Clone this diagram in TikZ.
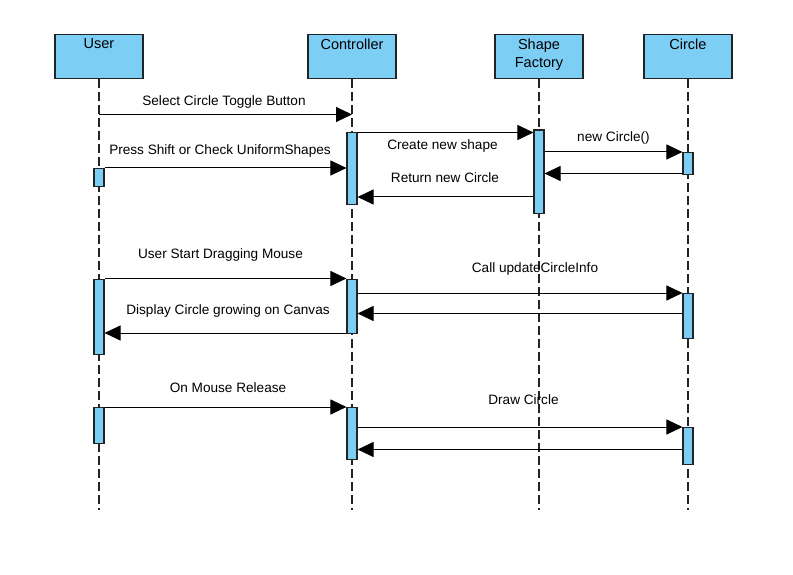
\documentclass[tikz,border=0pt]{standalone}
\usepackage{fontspec}
\setmainfont{Liberation Sans}
\usetikzlibrary{arrows.meta}
\definecolor{boxfill}{RGB}{125,206,245}
\definecolor{edge}{RGB}{35,35,35}
\begin{document}
\begin{tikzpicture}[x=1pt,y=-1pt,
  head/.style={draw=edge, fill=boxfill, line width=1.1pt, minimum width=88pt, minimum height=44pt, inner sep=0pt, anchor=north},
  headtxt/.style={anchor=north, inner sep=0pt, yshift=-4.5pt, align=center, font=\fontsize{14.5}{18}\selectfont},
  life/.style={draw=edge, line width=1.1pt, dash pattern=on 9pt off 4pt},
  act/.style={draw=edge, fill=boxfill, line width=1.1pt, minimum width=10pt, inner sep=0pt, anchor=north},
  msgline/.style={draw=black, line width=1pt, -{Triangle[length=16pt,width=15pt]}},
  msg/.style={inner sep=0pt, font=\fontsize{13.6}{16}\selectfont}
]
\fill[white] (0,0) rectangle (793,575);
\useasboundingbox (0,0) rectangle (793,575);

% headers
\node[head] (user) at (99,34) {};
\node[headtxt] (usertxt) at (user.north) {User};
\node[head] (ctrl) at (352,34) {};
\node[headtxt] (ctrltxt) at (ctrl.north) {Controller};
\node[head] (fact) at (539,34) {};
\node[headtxt] (facttxt) at (fact.north) {Shape\\Factory};
\node[head] (circ) at (688,34) {};
\node[headtxt] (circtxt) at (circ.north) {Circle};

% lifeline ends
\coordinate (userend) at (99,510);
\coordinate (ctrlend) at (352,510);
\coordinate (factend) at (539,510);
\coordinate (circend) at (688,510);
\draw[life] (user.south) -- (userend);
\draw[life] (ctrl.south) -- (ctrlend);
\draw[life] (fact.south) -- (factend);
\draw[life] (circ.south) -- (circend);

% activations
\node[act, minimum height=18pt] (ua1) at (99,168) {};
\node[act, minimum height=75pt] (ua2) at (99,278.5) {};
\node[act, minimum height=36pt] (ua3) at (99,407) {};
\node[act, minimum height=72pt] (ca1) at (352,132) {};
\node[act, minimum height=54.5pt] (ca2) at (352,278.5) {};
\node[act, minimum height=51.5pt] (ca3) at (352,407) {};
\node[act, minimum height=83pt] (fa1) at (539,129.5) {};
\node[act, minimum height=22pt] (ia1) at (688,152) {};
\node[act, minimum height=44.5pt] (ia2) at (688,293) {};
\node[act, minimum height=37pt] (ia3) at (688,427) {};

% messages
\coordinate (m1s) at (99,114.5);
\coordinate (m1e) at (352,114.5);
\draw[msgline] (m1s) -- (m1e);
\node[msg] (l1) at (224,102) {Select Circle Toggle Button};

\draw[msgline] (ca1.east |- 0,132.5) -- (fa1.west |- 0,132.5);
\node[msg] (l2) at (442.5,146) {Create new shape};

\draw[msgline] (ua1.north east) -- (ca1.west |- ua1.north);
\node[msg] (l3) at (220,151) {Press Shift or Check UniformShapes};

\draw[msgline] (fa1.east |- ia1.north) -- (ia1.north west);
\node[msg] (l4) at (613.5,137.5) {new Circle()};

\draw[msgline] (ia1.west |- 0,173.5) -- (fa1.east |- 0,173.5);

\draw[msgline] (fa1.west |- 0,197) -- (ca1.east |- 0,197);
\node[msg] (l5) at (445,178) {Return new Circle};

\draw[msgline] (ua2.north east) -- (ca2.north west);
\node[msg] (l6) at (220.5,255) {User Start Dragging Mouse};

\draw[msgline] (ca2.east |- ia2.north) -- (ia2.north west);
\node[msg] (l7) at (535,268.5) {Call updateCircleInfo};

\draw[msgline] (ia2.west |- 0,313.5) -- (ca2.east |- 0,313.5);

\draw[msgline] (ca2.west |- 0,333) -- (ua2.east |- 0,333);
\node[msg] (l8) at (228,311) {Display Circle growing on Canvas};

\draw[msgline] (ua3.north east) -- (ca3.north west);
\node[msg] (l9) at (228,388) {On Mouse Release};

\draw[msgline] (ca3.east |- ia3.north) -- (ia3.north west);
\node[msg] (l10) at (523.5,400) {Draw Circle};

\draw[msgline] (ia3.west |- 0,449.5) -- (ca3.east |- 0,449.5);
\end{tikzpicture}
\end{document}
